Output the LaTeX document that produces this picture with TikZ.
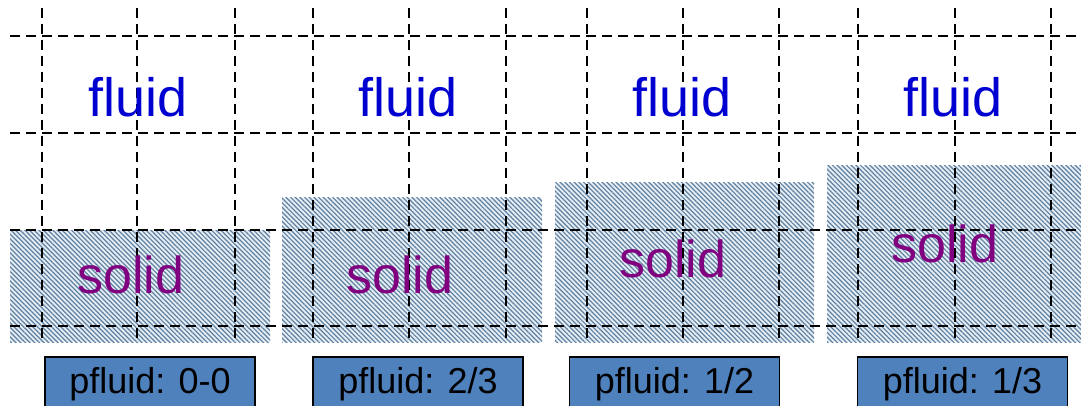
\documentclass[tikz,border=0pt]{standalone}
\usepackage{fontspec}
\setmainfont{Liberation Sans}
\usetikzlibrary{patterns.meta}
\definecolor{fluidblue}{HTML}{0000D0}
\definecolor{solidpurple}{HTML}{800080}
\definecolor{hatchline}{HTML}{5F80A0}
\definecolor{hatchback}{HTML}{E6EEF6}
\definecolor{tagfill}{HTML}{4F81BD}
\tikzset{
  gridline/.style={draw=black, line width=2.5pt, dash pattern=on 10pt off 6pt},
  solidblock/.style={fill=hatchback, pattern={Lines[angle=-45,distance=3.3pt,line width=1.2pt]}, pattern color=hatchline},
  fluidtext/.style={text=fluidblue, font=\fontsize{54}{60}\selectfont, anchor=base, inner sep=0pt},
  solidtext/.style={text=solidpurple, font=\fontsize{52}{58}\selectfont, anchor=base, inner sep=0pt},
  tagbox/.style={draw=black, line width=1.5pt, fill=tagfill, minimum width=210pt, minimum height=54pt, anchor=north, inner sep=0pt, font=\fontsize{36}{40}\selectfont}
}
\begin{document}
\begin{tikzpicture}[x=1pt,y=-1pt]
\useasboundingbox (0,0) rectangle (1081,406);
% hatched solid regions, one per stage
\fill[hatchback] (10,230) rectangle (270,342);
\fill[solidblock] (10,230) rectangle (270,342);
\fill[hatchback] (282,198) rectangle (542,342);
\fill[solidblock] (282,198) rectangle (542,342);
\fill[hatchback] (555,183) rectangle (814,342);
\fill[solidblock] (555,183) rectangle (814,342);
\fill[hatchback] (827,166) rectangle (1081,342);
\fill[solidblock] (827,166) rectangle (1081,342);
% dashed mesh
\foreach \y in {36,133,230,326}
  \draw[gridline] (10,\y) -- (1081,\y);
\foreach \x in {42,137,235, 313,409,506, 587,683,779, 858,955,1051}
  \draw[gridline] (\x,8) -- (\x,342);
% phase labels
\node[fluidtext] (f1) at (138,117) {fluid};
\node[fluidtext] (f2) at (408,117) {fluid};
\node[fluidtext] (f3) at (682,117) {fluid};
\node[fluidtext] (f4) at (953,117) {fluid};
\node[solidtext] (s1) at (131,293) {solid};
\node[solidtext] (s2) at (400,293) {solid};
\node[solidtext] (s3) at (673,277) {solid};
\node[solidtext] (s4) at (945,262) {solid};
% fraction tags
\node[tagbox] (t1) at (150,356) {pfluid: 0-0};
\node[tagbox] (t2) at (418,356) {pfluid: 2/3};
\node[tagbox] (t3) at (674.5,356) {pfluid: 1/2};
\node[tagbox] (t4) at (962.5,356) {pfluid: 1/3};
\end{tikzpicture}
\end{document}
